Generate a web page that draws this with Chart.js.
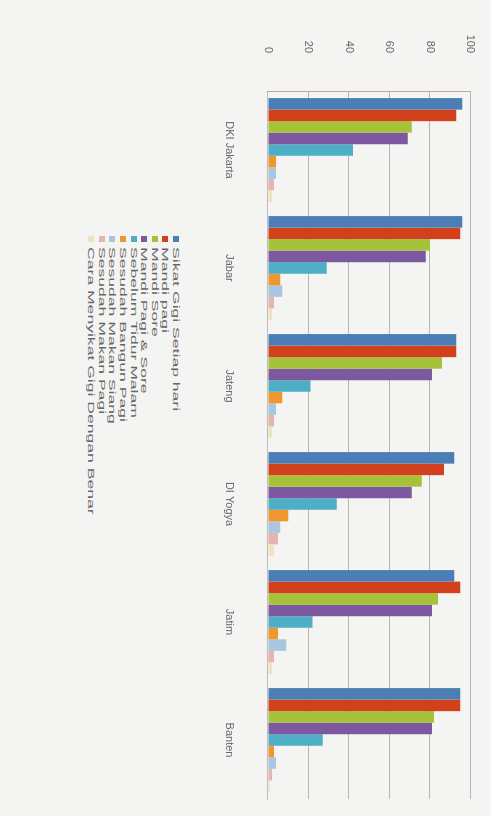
<!DOCTYPE html>
<html>
<head>
<meta charset="utf-8">
<script src="https://cdn.jsdelivr.net/npm/chart.js@4/dist/chart.umd.min.js"></script>
<style>
html, body { margin: 0; padding: 0; width: 491px; height: 816px; overflow: hidden; background: #f4f4f2; }
/* chart is drawn landscape, then turned a quarter clockwise like the scanned page */
#wrap { position: absolute; left: 0; top: 0; width: 816px; height: 491px; transform-origin: 0 0; transform: translateX(491px) rotate(90deg); }
#chartBox { position: absolute; left: 0; top: -24px; width: 816px; height: 304px; }
#legend { position: absolute; left: 236px; top: 310px; font: 9.5px "Liberation Sans", Arial, sans-serif; color: #666; }
#legend div { height: 10.6px; line-height: 10.6px; white-space: nowrap; }
#legend .box { display: inline-block; width: 6px; height: 6px; margin-right: 5px; vertical-align: 0px; }
#legend .txt { display: inline-block; transform: scaleX(1.85); transform-origin: 0 50%; }
</style>
</head>
<body>
<div id="wrap">
	<div id="chartBox"><canvas id="chart" width="816" height="304"></canvas></div>
	<div id="legend"></div>
</div>
<script>
var categories = ['DKI Jakarta', 'Jabar', 'Jateng', 'DI Yogya', 'Jatim', 'Banten']
var seriesNames = ['Sikat Gigi Setiap hari', 'Mandi pagi', 'Mandi Sore', 'Mandi Pagi & Sore', 'Sebelum Tidur Malam',
	'Sesudah Bangun Pagi', 'Sesudah Makan Siang', 'Sesudah Makan Pagi', 'Cara Menyikat Gigi Dengan Benar']
var yTicks = [0, 20, 40, 60, 80, 100]

// persentase per provinsi
var sikatGigi = [96, 96, 93, 92, 92, 95]
var mandiPagi = [93, 95, 93, 87, 95, 95]
var mandiSore = [71, 80, 86, 76, 84, 82]
var mandiPagiSore = [69, 78, 81, 71, 81, 81]
var sebelumTidur = [42, 29, 21, 34, 22, 27]
var sesudahBangun = [4, 6, 7, 10, 5, 3]
var sesudahMakanSiang = [4, 7, 4, 6, 9, 4]
var sesudahMakanPagi = [3, 3, 3, 5, 3, 2]
var caraMenyikat = [2, 2, 2, 3, 2, 1]

var seriesValues = [sikatGigi, mandiPagi, mandiSore, mandiPagiSore, sebelumTidur,
	sesudahBangun, sesudahMakanSiang, sesudahMakanPagi, caraMenyikat]
var colors = ['#4a7eb5', '#d2401c', '#a6c23a', '#7c58a0', '#4eaec6', '#f0962e', '#a9c6e0', '#e4b4b0', '#efe3c2']

var datasets = seriesNames.map((name, i) => ({
	label: name,
	data: seriesValues[i],
	backgroundColor: colors[i],
	borderWidth: 0,
	categoryPercentage: 0.88,
	barPercentage: 1.0
}))

var ctx = document.getElementById('chart').getContext('2d')
new Chart(ctx, {
	type: 'bar',
	data: { labels: categories, datasets: datasets },
	options: {
		responsive: false,
		animation: false,
		layout: { padding: { top: 14, right: 17, left: 0, bottom: 0 } },
		plugins: { legend: { display: false }, tooltip: { enabled: false } },
		scales: {
			x: {
				grid: { display: false },
				border: { color: '#bbb' },
				ticks: { color: '#666', font: { size: 11, family: 'Liberation Sans' }, padding: 24 },
				afterFit: s => { s.height = 57 }
			},
			y: {
				min: 0,
				max: 100,
				afterBuildTicks: s => { s.ticks = yTicks.map(v => ({ value: v })) },
				grid: { color: '#b5b5b5', drawTicks: false },
				border: { color: '#c8a48c' },
				ticks: { color: '#666', font: { size: 11, family: 'Liberation Sans' }, padding: 38 },
				afterFit: s => { s.width = 91 }
			}
		}
	}
})

// legenda di bawah grafik, satu baris per seri
var legend = document.getElementById('legend')
seriesNames.forEach((name, i) => {
	var row = document.createElement('div')
	var box = document.createElement('span')
	box.className = 'box'
	box.style.background = colors[i]
	var txt = document.createElement('span')
	txt.className = 'txt'
	txt.textContent = name
	row.appendChild(box)
	row.appendChild(txt)
	legend.appendChild(row)
})
</script>
</body>
</html>
